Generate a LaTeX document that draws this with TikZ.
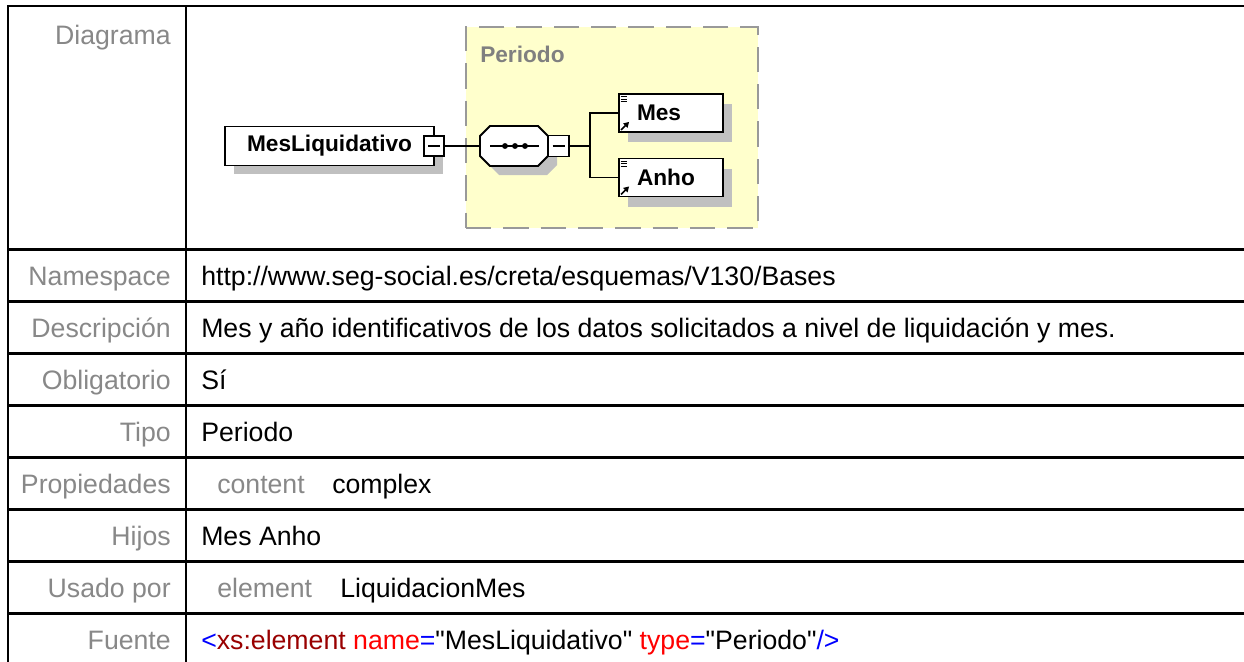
\documentclass[tikz,border=0pt]{standalone}
\usepackage{fontspec}
\setmainfont{Liberation Sans}[Ligatures=TeXOff]
\usetikzlibrary{calc,arrows.meta}
\definecolor{lbl}{HTML}{888888}
\definecolor{yel}{HTML}{FFFFCC}
\definecolor{dashgray}{HTML}{999999}
\definecolor{shd}{HTML}{C0C0C0}
\definecolor{xmlblue}{HTML}{0000FF}
\definecolor{xmlmaroon}{HTML}{990000}
\definecolor{xmlred}{HTML}{FF0000}
\begin{document}
\begin{tikzpicture}[x=0.75pt,y=-0.75pt,
  rowlabel/.style={anchor=base east, inner sep=0, text=lbl, font=\fontsize{20}{24}\selectfont},
  rowvalue/.style={anchor=base west, inner sep=0, text=black, font=\fontsize{20}{24}\selectfont},
  gridline/.style={line width=2pt, black},
  elbox/.style={draw=black, fill=white, line width=1.4pt, inner sep=0, font=\bfseries\fontsize{17}{20}\selectfont},
  minusbox/.style={draw=black, fill=white, line width=1.2pt, inner sep=0, minimum size=15pt},
  octoline/.style={draw=black, fill=white, line width=1.4pt},
  wire/.style={line width=1pt, black},
  groupbox/.style={draw=dashgray, fill=yel, line width=1.5pt, dash pattern=on 19pt off 9pt, inner sep=0},
]
\useasboundingbox (0,0) rectangle (1244,661);
\fill[white] (0,0) rectangle (1244,661);

% ---------- table grid ----------
\draw[gridline] (8,6) -- (1250,6);
\draw[gridline] (8,5) -- (8,670);
\draw[gridline] (186,5) -- (186,670);
\foreach \yy in {249.5,301.5,353.5,405.5,457.5,509.5,561.5,613.5}
  \draw[gridline] (7,\yy) -- (1250,\yy);

% ---------- row labels ----------
\node[rowlabel] (lDiag) at (171,44) {Diagrama};
\node[rowlabel] (lNs) at (171,285) {Namespace};
\node[rowlabel] (lDesc) at (171,337) {Descripción};
\node[rowlabel] (lOblig) at (171,389) {Obligatorio};
\node[rowlabel] (lTipo) at (171,441) {Tipo};
\node[rowlabel] (lProp) at (171,493) {Propiedades};
\node[rowlabel] (lHijos) at (171,545) {Hijos};
\node[rowlabel] (lUsado) at (171,597) {Usado por};
\node[rowlabel] (lFuente) at (171,649) {Fuente};

% ---------- row values ----------
\node[rowvalue] (vNs) at (201,285) {http://www.seg-social.es/creta/esquemas/V130/Bases};
\node[rowvalue] (vDesc) at (201,337) {Mes y año identificativos de los datos solicitados a nivel de liquidación y mes.};
\node[rowvalue] (vOblig) at (201,389) {Sí};
\node[rowvalue] (vTipo) at (201,441) {Periodo};
\node[rowvalue, text=lbl] (vPropK) at (217,493) {content};
\node[rowvalue] (vPropV) at (332,493) {complex};
\node[rowvalue] (vHijos) at (201,545) {Mes Anho};
\node[rowvalue, text=lbl] (vUsadoK) at (217,597) {element};
\node[rowvalue] (vUsadoV) at (340,597) {LiquidacionMes};
\node[rowvalue] (vFuente) at (201,649) {\textcolor{xmlblue}{<}\textcolor{xmlmaroon}{xs:element} \textcolor{xmlred}{name}\textcolor{xmlblue}{=}"MesLiquidativo" \textcolor{xmlred}{type}\textcolor{xmlblue}{=}"Periodo"\textcolor{xmlblue}{/>}};

% ---------- diagram ----------
\node[groupbox, minimum width=219pt, minimum height=150.75pt] (periodo) at (612,127.5) {};
\node[anchor=base west, inner sep=0, text=gray, font=\bfseries\fontsize{17}{20}\selectfont] (periodoLbl) at (480,62) {Periodo};

% shadows
\fill[shd] (234,134.5) rectangle (443,173.5);
\fill[shd] (489,145) -- (499,135) -- (547,135) -- (557,145) -- (557,165) -- (547,175) -- (499,175) -- (489,165) -- cycle;
\fill[shd] (628,104) rectangle (732,142);
\fill[shd] (628,168.5) rectangle (732,206.5);

% element MesLiquidativo
\node[elbox, minimum width=156.75pt, minimum height=29.25pt] (ml) at (329.5,146) {MesLiquidativo};
\node[minusbox] (mlm) at (434,146) {};
\draw[line width=1pt] ($(mlm.center)+(-6,0)$) -- ($(mlm.center)+(6,0)$);

% sequence compositor (octagon)
\draw[octoline] (480,136) -- (490,126) -- (538,126) -- (548,136) -- (548,156) -- (538,166) -- (490,166) -- (480,156) -- cycle;
\node[inner sep=0, minimum width=51pt, minimum height=30pt] (seq) at (514,146) {};
\draw[line width=1pt] ($(seq.center)+(-24,0)$) -- ($(seq.center)+(25,0)$);
\foreach \dx in {-9,1,11}
  \fill ($(seq.center)+(\dx,0)$) circle (2.2pt);
\node[minusbox, minimum size=15.5pt] (seqm) at (558.5,146) {};
\draw[line width=1pt] ($(seqm.center)+(-6,0)$) -- ($(seqm.center)+(6,0)$);

% children
\node[elbox, minimum height=28.5pt, text width=78pt, align=left] (mes) at (671,113) {\hspace*{13.5pt}Mes};
\node[elbox, minimum height=28.5pt, text width=78pt, align=left] (anho) at (671,177.5) {\hspace*{13.5pt}Anho};
\foreach \n in {mes,anho}{
  \foreach \dy in {3.5,6,8.5}
    \draw[line width=0.8pt] ($(\n.north west)+(2.5,\dy)$) -- ($(\n.north west)+(9,\dy)$);
  \draw[line width=1.3pt, -{Triangle[length=4pt,width=4.5pt]}] ($(\n.south west)+(3,-3)$) -- ($(\n.south west)+(11,-11)$);
}

% connectors
\coordinate (fork) at (590,146);
\draw[wire] (mlm.east) -- (seq.west);
\draw[wire] (seqm.east) -- (fork);
\draw[wire] (fork) |- (mes.west);
\draw[wire] (fork) |- (anho.west);
\end{tikzpicture}
\end{document}
